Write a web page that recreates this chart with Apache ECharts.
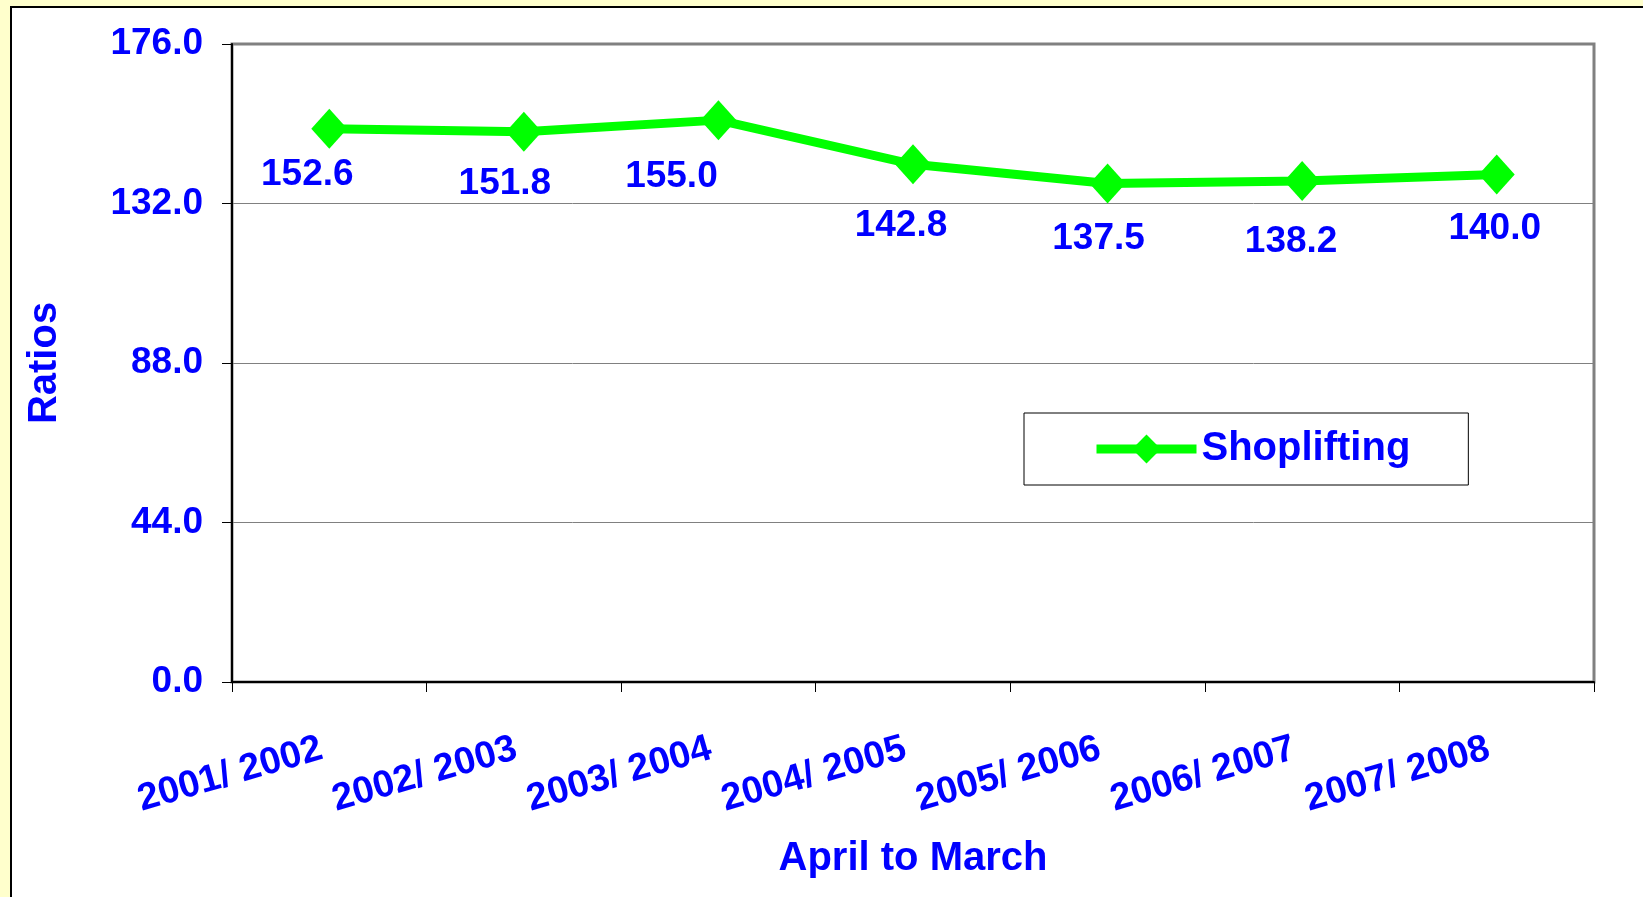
<!DOCTYPE html>
<html>
<head>
<meta charset="utf-8">
<title>Shoplifting ratios</title>
<script src="https://cdn.jsdelivr.net/npm/echarts@6/dist/echarts.min.js"></script>
<style>
  html, body { margin: 0; padding: 0; background: #FFFFCC; }
  #chart { width: 1643px; height: 897px; }
</style>
</head>
<body>
<div id="chart"></div>
<script>
// data
var years = ['2001/ 2002', '2002/ 2003', '2003/ 2004', '2004/ 2005', '2005/ 2006', '2006/ 2007', '2007/ 2008'];
var shoplifting = [152.6, 151.8, 155.0, 142.8, 137.5, 138.2, 140.0];
var yTicks = [0, 44, 88, 132, 176];

// label nudges (the labels were placed by hand in the original)
var labelNudge = [[-22, 46], [-19, 52], [-47, 57], [-12, 61], [-9, 55], [-11, 61], [-2, 54]];

var font = '"Liberation Sans", Arial, sans-serif';
var blue = '#0000FF';
var green = '#00FF00';

var myChart = echarts.init(document.getElementById('chart'));

var seriesData = shoplifting.map(function (v, i) {
    return { value: v, label: { offset: labelNudge[i] } };
});

var option = {
    backgroundColor: '#FFFFCC',
    animation: false,
    textStyle: { fontFamily: font },
    graphic: [{
        type: 'rect',
        z: -10,
        shape: { x: 11, y: 7, width: 1700, height: 1000 },
        style: { fill: '#FFFFFF', stroke: '#000000', lineWidth: 2 }
    }],
    grid: {
        left: 232,
        right: 49,
        top: 44,
        bottom: 215,
        show: true,
        backgroundColor: '#FFFFFF',
        borderColor: '#808080',
        borderWidth: 3
    },
    legend: {
        left: 1024,
        top: 413,
        orient: 'horizontal',
        backgroundColor: '#FFFFFF',
        borderColor: '#000000',
        borderWidth: 1,
        borderRadius: 0,
        padding: [16, 58, 16, 68],
        itemWidth: 100,
        itemHeight: 36,
        lineStyle: { width: 9 },
        textStyle: { color: blue, fontSize: 40, fontWeight: 'bold', fontFamily: font },
        data: ['Shoplifting']
    },
    xAxis: {
        type: 'category',
        data: years,
        name: 'April to March',
        nameLocation: 'middle',
        nameGap: 157,
        nameTextStyle: { color: blue, fontSize: 40, fontWeight: 'bold', fontFamily: font },
        axisLine: { lineStyle: { color: '#000000', width: 2 } },
        axisTick: { show: true, length: 10, lineStyle: { color: '#000000', width: 1 } },
        axisLabel: {
            rotate: 16,
            margin: 64,
            padding: [0, 8, 0, 0],
            color: blue,
            fontSize: 38,
            fontWeight: 'bold',
            fontFamily: font
        }
    },
    yAxis: {
        type: 'value',
        min: yTicks[0],
        max: yTicks[yTicks.length - 1],
        interval: yTicks[1] - yTicks[0],
        name: 'Ratios',
        nameLocation: 'middle',
        nameRotate: 90,
        nameGap: 167,
        nameTextStyle: { color: blue, fontSize: 40, fontWeight: 'bold', fontFamily: font },
        axisLine: { show: true, lineStyle: { color: '#000000', width: 2 } },
        axisTick: { show: true, length: 10, lineStyle: { color: '#000000', width: 1 } },
        axisLabel: {
            margin: 29,
            color: blue,
            fontSize: 37,
            fontWeight: 'bold',
            fontFamily: font,
            formatter: function (v) { return v.toFixed(1); }
        },
        splitLine: { show: true, lineStyle: { color: '#808080', width: 1 } }
    },
    series: [{
        name: 'Shoplifting',
        type: 'line',
        data: seriesData,
        symbol: 'diamond',
        symbolSize: [36, 40],
        lineStyle: { color: green, width: 9 },
        itemStyle: { color: green },
        label: {
            show: true,
            position: 'inside',
            color: blue,
            fontSize: 37,
            fontWeight: 'bold',
            fontFamily: font,
            formatter: function (p) { return p.value.toFixed(1); }
        }
    }]
};

myChart.setOption(option);
</script>
</body>
</html>
